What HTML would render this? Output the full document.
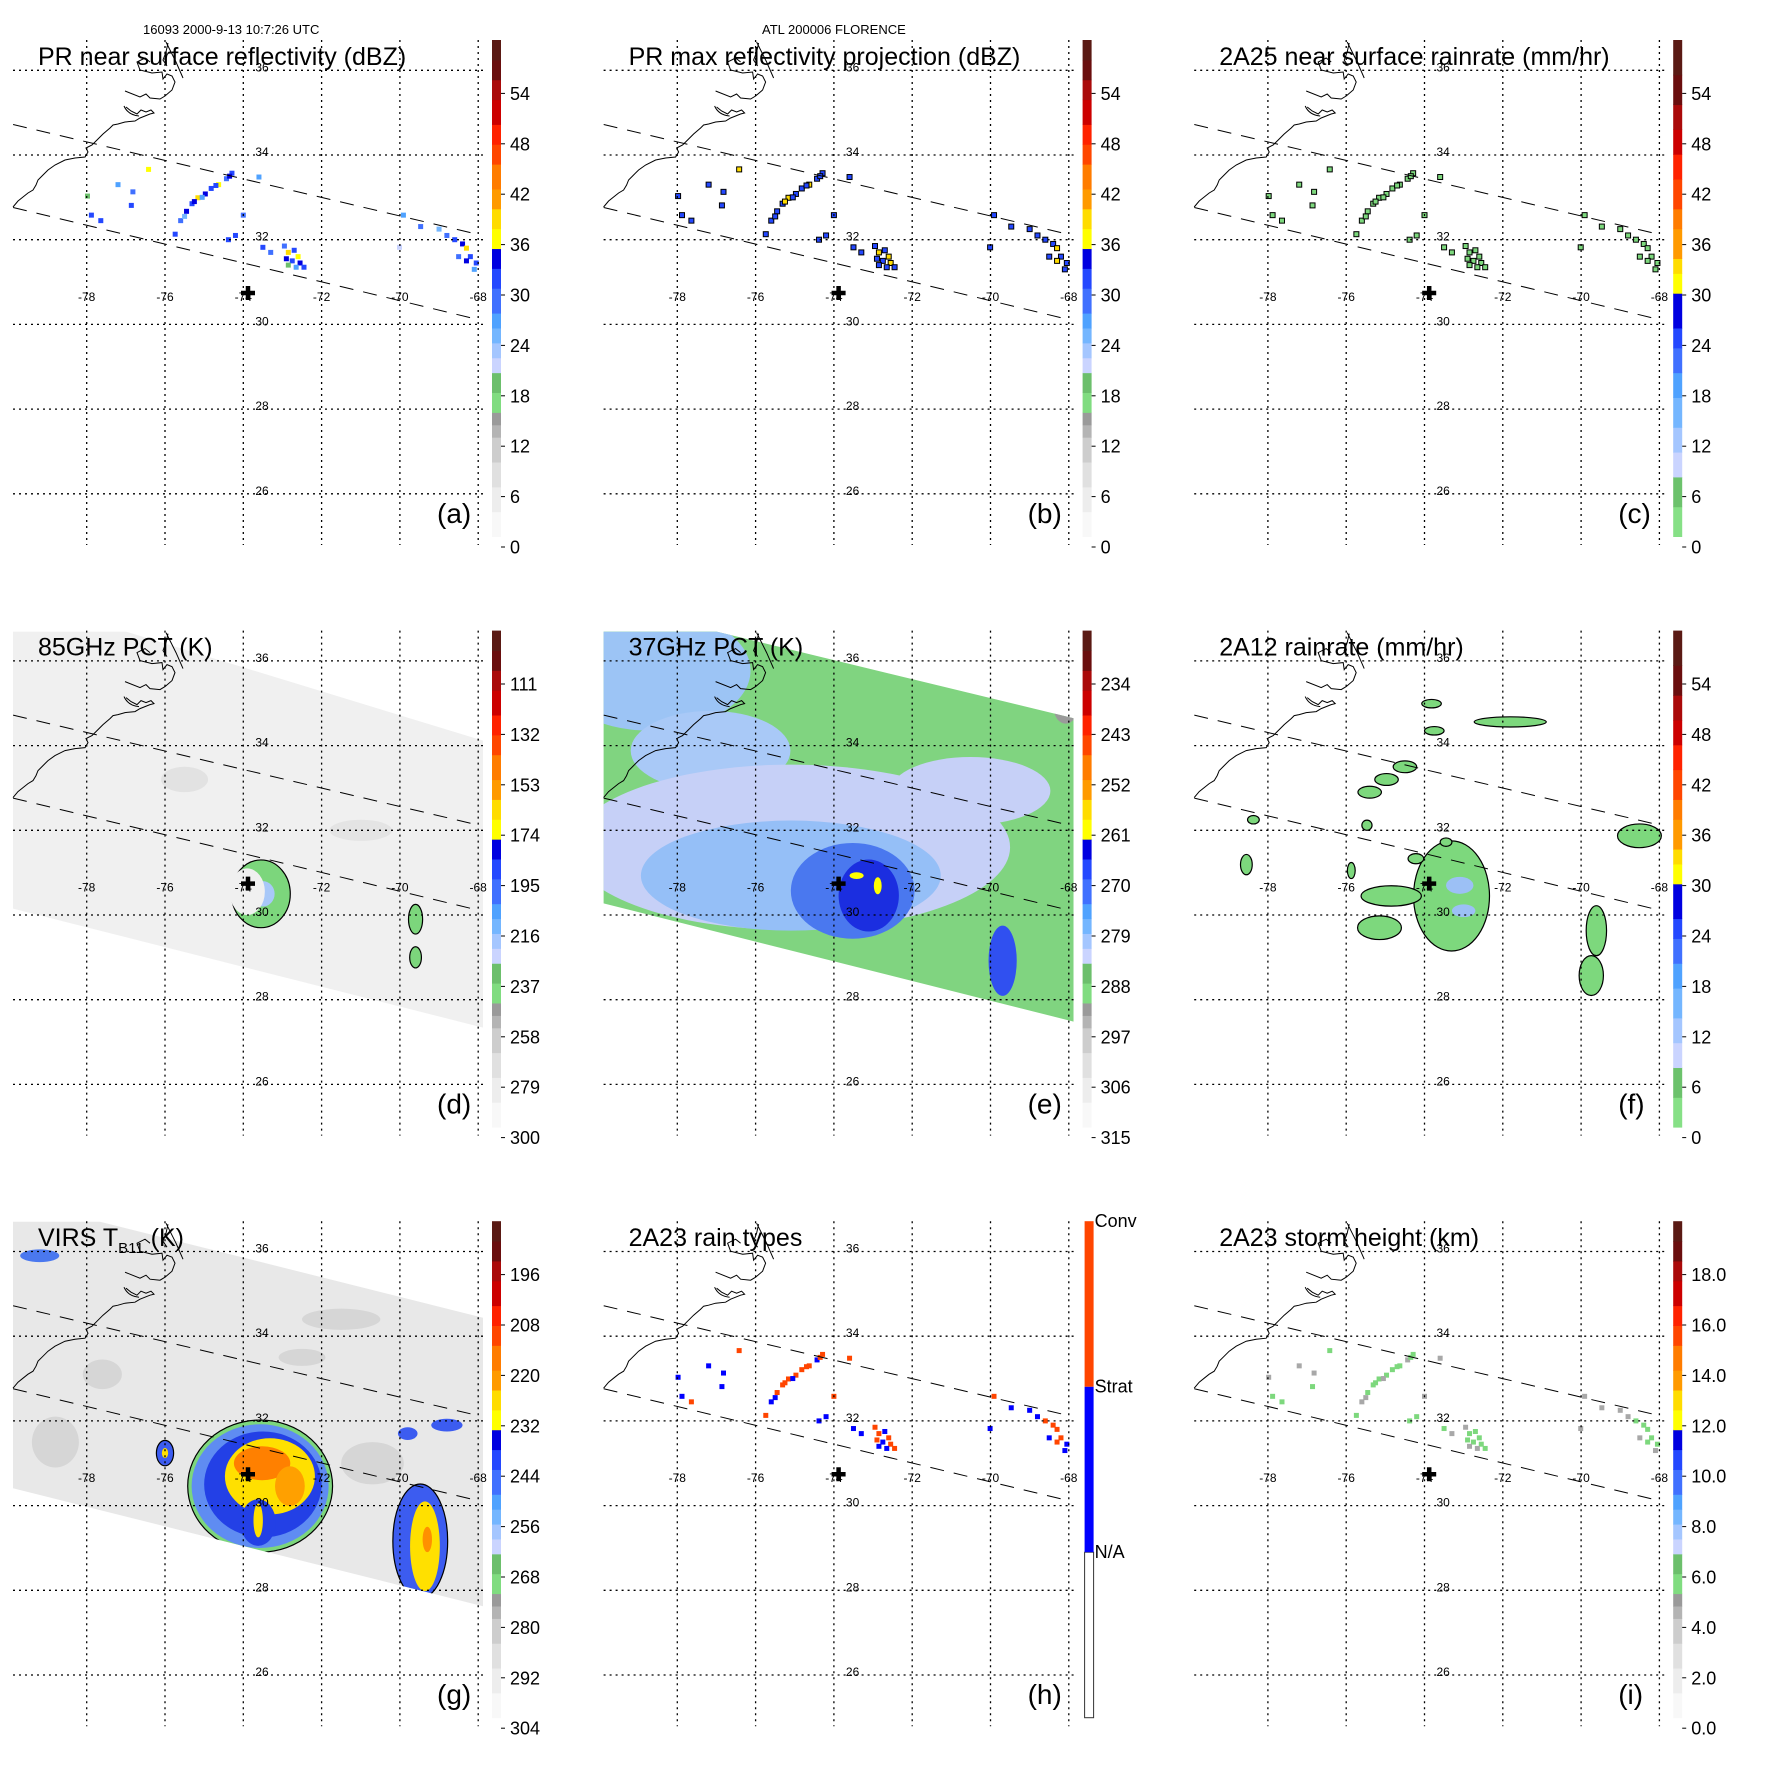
<!DOCTYPE html>
<html><head><meta charset="utf-8"><title>TRMM Florence 2000-09-13</title>
<style>
html,body{margin:0;padding:0;background:#fff;}
svg{display:block;font-family:"Liberation Sans",Arial,sans-serif;}
</style></head>
<body>
<svg id="fig" width="1771" height="1771" viewBox="0 0 1771 1771" xmlns="http://www.w3.org/2000/svg">
<text x="143" y="34" font-size="13">16093 2000-9-13 10:7:26 UTC</text>
<text x="762" y="34" font-size="13">ATL 200006 FLORENCE</text>
</svg>
<script>
// ---------- data arrays ----------
const lonTicks = [-78,-76,-74,-72,-70,-68];
const latTicks = [36,34,32,30,28,26];
const stormCenter = [-73.88, 30.74];
const swathTop = [[-79.88,34.72],[-67.98,32.12]];
const swathBottom = [[-79.88,32.76],[-67.98,30.11]];
// PR cells: lon, lat, dBZ
const prLon = [-75.74,-75.6,-75.45,-75.31,-75.16,-74.97,-74.82,-74.63,-74.43,-74.29,-75.5,-75.05,-74.7,-74.35,-75.25,
 -72.95,-72.85,-72.7,-72.6,-72.75,-72.55,-72.45,-72.85,-72.65,-72.9,
 -69.0,-68.8,-68.6,-68.4,-68.3,-68.2,-68.05,-68.5,-68.3,-68.1,
 -74.38,-74.0,-73.5,-76.82,-76.42,-77.2,-77.88,-77.64,-77.98,-76.86,-69.91,-69.47,-70.01,-73.6,-74.2,-73.3];
const prLat = [32.13,32.45,32.67,32.85,32.99,33.08,33.21,33.30,33.44,33.57,32.55,33.0,33.28,33.5,32.9,
 31.85,31.7,31.75,31.6,31.5,31.45,31.35,31.4,31.35,31.55,
 32.25,32.1,32.0,31.9,31.8,31.6,31.45,31.6,31.5,31.3,
 32.0,32.58,31.82,33.13,33.66,33.3,32.58,32.45,33.03,32.81,32.58,32.31,31.82,33.48,32.1,31.7];
const prVal = [30,28,33,30,38,33,30,36,28,30,24,26,32,33,34,
 28,38,32,36,30,34,30,18,26,33,
 24,28,30,33,38,32,30,28,34,26,
 30,28,30,28,36,26,30,32,18,30,26,28,20,26,30,28];
// field layers: lon, lat, rx(deg), ry(deg), color
const eLayers = [[-78.68,35.77,2.55,1.42,'#9cc4f5'],[-77.15,33.88,2.04,0.94,'#a9c9f7'],[-75.1,31.6,5.6,1.95,'#c6d0f7'],
 [-70.51,32.93,2.04,0.8,'#c6d0f7'],[-75.1,30.93,3.83,1.30,'#95bff7'],[-73.52,30.57,1.58,1.13,'#4a78ef'],
 [-73.11,30.46,0.77,0.85,'#1b2ee0'],[-73.42,30.93,0.18,0.08,'#ffff00'],[-72.88,30.69,0.1,0.2,'#ffff00'],
 [-69.69,28.92,0.36,0.83,'#3050f0'],[-68.08,34.87,0.3,0.35,'#9a9a9a']];
const gLayers = [[-73.57,30.46,1.85,1.56,'#7cd67c'],[-73.57,30.46,1.75,1.46,'#5f8cf2'],[-73.5,30.5,1.5,1.25,'#2340e6'],
 [-73.32,30.69,1.15,0.9,'#ffe000'],[-73.52,31.0,0.72,0.4,'#ff8000'],[-72.81,30.46,0.38,0.47,'#ffa000'],
 [-73.62,29.6,0.45,0.55,'#2340e6'],[-73.62,29.65,0.12,0.4,'#ffe000'],
 [-69.48,29.16,0.7,1.35,'#3c5cf0'],[-69.36,29.04,0.38,1.06,'#ffe000'],[-69.3,29.2,0.12,0.3,'#ff9000'],
 [-76.0,31.24,0.22,0.3,'#3c5cf0'],[-76.0,31.24,0.08,0.12,'#ffe000'],[-79.2,35.9,0.5,0.15,'#4a78ef'],
 [-69.8,31.7,0.25,0.15,'#3c5cf0'],[-68.8,31.9,0.4,0.15,'#3c5cf0']];
const gGray = [[-77.6,33.1,0.5,0.35],[-71.5,34.4,1.0,0.25],[-70.7,31.0,0.8,0.5],[-78.8,31.5,0.6,0.6],[-72.5,33.5,0.6,0.2]];
const dLayers = [[-73.55,30.5,0.75,0.8,'#7cd67c'],[-73.5,30.5,0.3,0.3,'#a8c8f8'],[-69.6,29.9,0.18,0.35,'#7cd67c'],[-69.6,29.0,0.15,0.25,'#7cd67c']];
const fBlobs = [[-73.31,30.45,0.97,1.3],[-74.85,30.45,0.77,0.24],[-75.15,29.7,0.56,0.28],[-75.4,32.9,0.3,0.14],[-74.97,33.2,0.3,0.14],[-74.5,33.5,0.3,0.14],
 [-71.81,34.56,0.92,0.12],[-73.82,34.99,0.25,0.1],[-73.75,34.35,0.25,0.1],[-68.51,31.87,0.56,0.28],[-69.61,29.63,0.26,0.59],[-69.74,28.57,0.31,0.47],
 [-78.55,31.19,0.15,0.24],[-78.37,32.25,0.15,0.1],[-75.87,31.05,0.1,0.19],[-75.47,32.12,0.13,0.12],[-74.22,31.33,0.2,0.12],[-73.45,31.72,0.15,0.1]];

// ---------- geometry ----------
const PITCH = 590.6;
function px(lon){return 86.7+(lon+78)*39.15;}
function py(lat){return 70.3+(36-lat)*42.35;}
function sx(d){return d*39.15;}
function sy(d){return d*42.35;}
const NS='http://www.w3.org/2000/svg';
const svg=document.getElementById('fig');
function mk(tag,attrs,parent){const e=document.createElementNS(NS,tag);for(const k in attrs)e.setAttribute(k,attrs[k]);(parent||svg).appendChild(e);return e;}

const bandsA=[[0,'#f8f8f8'],[0.05,'#ededed'],[0.1,'#e0e0e0'],[0.15,'#cdcdcd'],[0.2,'#b4b4b4'],[0.225,'#9a9a9a'],[0.25,'#80dc80'],[0.29,'#6cbf6c'],[0.33,'#cad4ff'],[0.36,'#a4c6ff'],[0.39,'#74b6ff'],[0.42,'#4fa2ff'],[0.45,'#4070ff'],[0.5,'#2448ff'],[0.54,'#0000e0'],[0.58,'#ffff00'],[0.62,'#ffdc00'],[0.66,'#ff9a00'],[0.7,'#ff7c00'],[0.75,'#ff4600'],[0.79,'#ff2200'],[0.83,'#cc0000'],[0.88,'#aa0a0a'],[0.92,'#6a0e0e'],[0.96,'#5a1a14'],[1,null]];
const bandsC=[[0,'#86e086'],[0.06,'#6cc26c'],[0.12,'#cad4ff'],[0.17,'#a4c6ff'],[0.22,'#74b6ff'],[0.28,'#4fa2ff'],[0.33,'#4070ff'],[0.38,'#2448ff'],[0.42,'#0000e0'],[0.49,'#ffff00'],[0.53,'#ffdc00'],[0.56,'#ff9a00'],[0.62,'#ff7c00'],[0.66,'#ff4600'],[0.72,'#ff2200'],[0.77,'#cc0000'],[0.82,'#aa0a0a'],[0.87,'#6a0e0e'],[0.93,'#5a1a14'],[1,null]];
function cmap(b,f){let c=b[0][1];for(let i=0;i<b.length-1;i++){if(f>=b[i][0])c=b[i][1];}return c;}

const coast="M13,207 L18,201 L23,197 L28,193 L33,190 L36,185 L38,180 L42,176 L48,170 L55,165 L65,160 L75,158 L85,157 L88,152 L86,148 L92,145 L97,140 L103,134 L110,128 L113,125 L118,124 L125,122 L135,121 L140,118 L145,116 L150,114 L154,113 L151,110 L146,112 L141,110 L137,114 L131,111 L126,107 M124,106 Q128,115 139,116 M125,91 L140,97 L146,94 L150,98 L160,99 L165,96 L172,90 L175,82 L172,76 L167,74 L163,79 L162,72 L152,73 L140,70 L137,62 L145,58 L150,62 M166,42 L170,50 L176,62 L183,78 M168,43 L166,52 L163,60 L167,66";

const panels=[
 {id:'a',title:'PR near surface reflectivity (dBZ)',bands:bandsA,labels:['0','6','12','18','24','30','36','42','48','54']},
 {id:'b',title:'PR max reflectivity projection (dBZ)',bands:bandsA,labels:['0','6','12','18','24','30','36','42','48','54']},
 {id:'c',title:'2A25 near surface rainrate (mm/hr)',bands:bandsC,labels:['0','6','12','18','24','30','36','42','48','54']},
 {id:'d',title:'85GHz PCT (K)',bands:bandsA,labels:['300','279','258','237','216','195','174','153','132','111']},
 {id:'e',title:'37GHz PCT (K)',bands:bandsA,labels:['315','306','297','288','279','270','261','252','243','234']},
 {id:'f',title:'2A12 rainrate (mm/hr)',bands:bandsC,labels:['0','6','12','18','24','30','36','42','48','54']},
 {id:'g',title:'VIRS T',bands:bandsA,labels:['304','292','280','268','256','244','232','220','208','196']},
 {id:'h',title:'2A23 rain types',bands:null,labels:[]},
 {id:'i',title:'2A23 storm height (km)',bands:bandsA,labels:['0.0','2.0','4.0','6.0','8.0','10.0','12.0','14.0','16.0','18.0']}
];

function swathPoly(g,pts,fill,name){
  const p=mk('polygon',{points:pts.map(q=>q.join(',')).join(' '),fill:fill},g);
  
  
  return p;
}
function layer(g,L,name,stroke){
  const e=mk('ellipse',{cx:px(L[0]),cy:py(L[1]),rx:sx(L[2]),ry:sy(L[3]),fill:L[4]||'#7dd87d'},g);
  if(stroke){e.setAttribute('stroke','#000');e.setAttribute('stroke-width','1.2');}
  
  
}

panels.forEach((P,k)=>{
  const ox=(k%3)*PITCH, oy=Math.floor(k/3)*PITCH;
  const g=mk('g',{transform:`translate(${ox.toFixed(1)},${oy.toFixed(1)})`});
  
  
  const clipId='clip'+P.id;
  const cp=mk('clipPath',{id:clipId},g);
  mk('rect',{x:13,y:40,width:470,height:505},cp);
  const data=mk('g',{'clip-path':`url(#${clipId})`},g);
  
  

  if(P.id==='d'||P.id==='e'){
    const pts=P.id==='e'?[[12.7,41],[126,41],[483,127.7],[483,431],[12.7,312.7]]:[[12.7,41],[126,41],[483,150],[483,437],[12.7,318]];
    swathPoly(data,pts,P.id==='e'?'#80d480':'#f0f0f0','tmi-swath');
    const cl='sw'+P.id;const c2=mk('clipPath',{id:cl},g);mk('polygon',{points:pts.map(q=>q.join(',')).join(' ')},c2);
    const sub=mk('g',{'clip-path':`url(#${cl})`},data);
    if(P.id==='e'){ eLayers.forEach(L=>layer(sub,L,'pct37-region')); }
    else {
      layer(sub,[-75.5,33.2,0.6,0.3,'#e2e2e2'],'pct85-gray');
      layer(sub,[-71.0,32.0,0.8,0.25,'#e4e4e4'],'pct85-gray');
      dLayers.forEach((L,i)=>layer(sub,L,'pct85-region',i!==1));
      layer(sub,[-73.9,30.55,0.45,0.55,'#f0f0f0'],'pct85-eye');
    }
  }
  if(P.id==='g'){
    const pts=[[13,40.5],[100,40.5],[485,137],[485,425.5],[13,307]];
    swathPoly(data,pts,'#e8e8e8','virs-swath');
    const c2=mk('clipPath',{id:'swg'},g);mk('polygon',{points:pts.map(q=>q.join(',')).join(' ')},c2);
    const sub=mk('g',{'clip-path':'url(#swg)'},data);
    gGray.forEach(L=>layer(sub,[L[0],L[1],L[2],L[3],'#d6d6d6'],'virs-cloud-gray'));
    gLayers.forEach((L,i)=>layer(sub,L,'virs-cold-cloud',i===0||i===8||i===11));
  }
  if(P.id==='f'){ fBlobs.forEach(L=>layer(data,[L[0],L[1],L[2],L[3],'#7dd87d'],'rain-blob',true));
    layer(data,[-73.1,30.7,0.35,0.2,'#9cc0f5'],'rain-core'); layer(data,[-73.0,30.1,0.3,0.15,'#9cc0f5'],'rain-core'); }

  // PR cells
  if('abchi'.includes(P.id)){
    prLon.forEach((lon,i)=>{
      const v=prVal[i]; let fill='#000', st=null;
      if(P.id==='a') fill=cmap(bandsA,v/60);
      if(P.id==='b'){ fill=v>=34?'#ffdc00':'#2448ff'; st='#000'; }
      if(P.id==='c'){ fill='#7dd87d'; st='#000'; }
      if(P.id==='h') fill=(i%3===0||v>=33)?'#ff4500':'#0000ff';
      if(P.id==='i') fill=v>=30?'#7dd87d':'#a8a8a8';
      const r=mk('rect',{x:px(lon)-2.5,y:py(prLat[i])-2.5,width:5,height:5,fill:fill},data);
      if(st){r.setAttribute('stroke',st);r.setAttribute('stroke-width','1');}
      
      
    });
  }

  // grid
  lonTicks.forEach(l=>{const e=mk('line',{x1:px(l),x2:px(l),y1:40,y2:545,stroke:'#000','stroke-width':1.3,'stroke-dasharray':'2,4'},g);
     
    const t=mk('text',{x:px(l),y:301,'font-size':12,'text-anchor':'middle'},g);t.textContent=String(l);
     });
  latTicks.forEach(l=>{const e=mk('line',{x1:13,x2:483,y1:py(l),y2:py(l),stroke:'#000','stroke-width':1.3,'stroke-dasharray':'2,4'},g);
     
    const t=mk('text',{x:262,y:py(l)+1,'font-size':12,'text-anchor':'middle'},g);t.textContent=String(l);
     });
  // swath edges
  [swathTop,swathBottom].forEach(s=>{const e=mk('line',{x1:px(s[0][0]),y1:py(s[0][1]),x2:px(s[1][0]),y2:py(s[1][1]),stroke:'#000','stroke-width':1,'stroke-dasharray':'14,10'},g);
     });
  // coast
  const cst=mk('path',{d:coast,fill:'none',stroke:'#000','stroke-width':1},g);
   
  // storm center
  const cx=px(stormCenter[0]), cy=py(stormCenter[1]);
  const pl=mk('path',{d:`M${cx-7},${cy} H${cx+7} M${cx},${cy-7} V${cy+7}`,stroke:'#000','stroke-width':4.5},g);
   
  // title
  const tt=mk('text',{x:38,y:65,'font-size':25},g);
   
  if(P.id==='g'){ tt.textContent='VIRS T'; const s=mk('tspan',{'font-size':15,dy:7},tt); s.textContent='B11'; const s2=mk('tspan',{dy:-7},tt); s2.textContent=' (K)'; }
  else tt.textContent=P.title;
  const lt=mk('text',{x:437,y:523,'font-size':28},g); lt.textContent='('+P.id+')';
   
  // colorbar
  const cb=mk('g',{},g);
   
  const top=40, bot=536.5, H=bot-top;
  if(P.bands){
    for(let i=0;i<P.bands.length-1;i++){const f0=P.bands[i][0],f1=P.bands[i+1][0];
      mk('rect',{x:492,y:bot-f1*H,width:9,height:(f1-f0)*H+0.5,fill:P.bands[i][1]},cb);}
    P.labels.forEach((s,i)=>{const y=547-i*50.4;
      mk('line',{x1:501,x2:505,y1:y,y2:y,stroke:'#000','stroke-width':1},cb);
      const t=mk('text',{x:510,y:y+6.5,'font-size':18},cb); t.textContent=s;
       });
  } else {
    mk('rect',{x:494,y:bot-H/3,width:9,height:H/3,fill:'#fff',stroke:'#333','stroke-width':1},cb);
    mk('rect',{x:494,y:top+H/3,width:9,height:H/3,fill:'#0000ff'},cb);
    mk('rect',{x:494,y:top,width:9,height:H/3,fill:'#ff4500'},cb);
    [['Conv',top],['Strat',top+H/3],['N/A',top+2*H/3]].forEach(a=>{
      const t=mk('text',{x:504,y:a[1]+6,'font-size':18},cb); t.textContent=a[0];
       });
  }
});
</script>
</body></html>
